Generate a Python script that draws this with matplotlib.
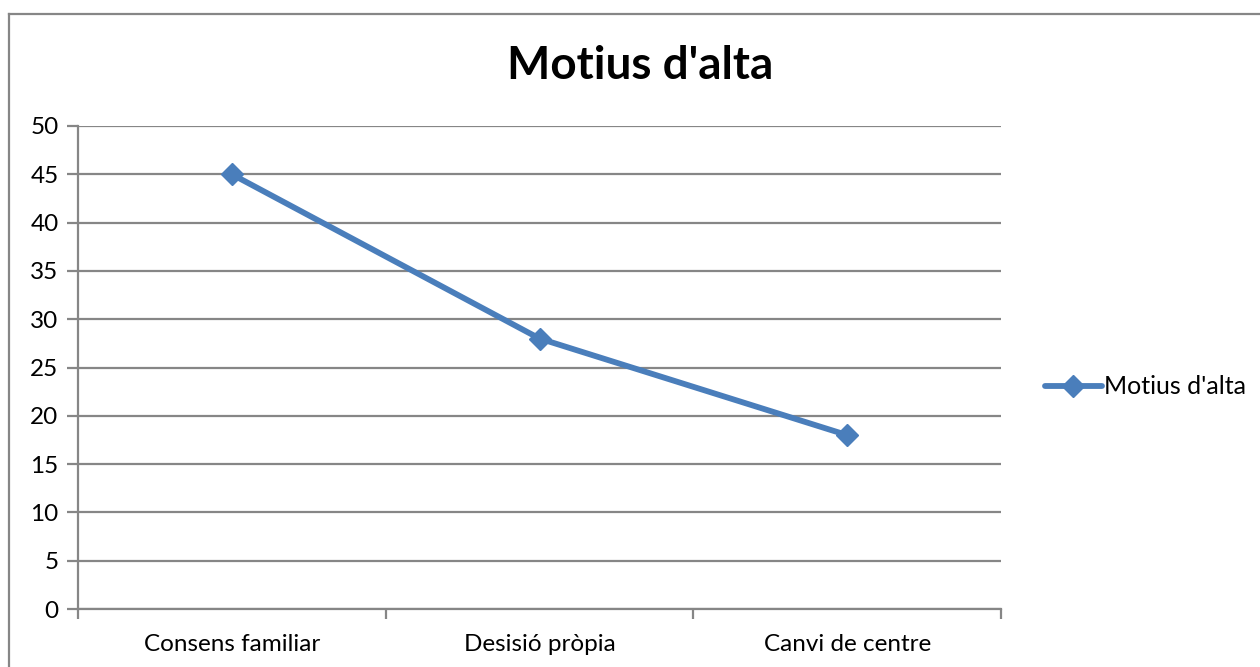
import matplotlib.pyplot as plt
from matplotlib.lines import Line2D

categories = ["Consens familiar", "Desisió pròpia", "Canvi de centre"]
values = [45, 28, 18]
series_name = "Motius d'alta"
yticks = [0, 5, 10, 15, 20, 25, 30, 35, 40, 45, 50]

W, H = 1260, 667
plt.rcParams['font.family'] = ['Lato', 'DejaVu Sans']
grey = '#868686'
blue = '#4A7EBB'

fig = plt.figure(figsize=(W / 100, H / 100), dpi=100)
ax = fig.add_axes([78 / W, 1 - 609 / H, (1001 - 78) / W, (609 - 126) / H])

x = range(len(categories))
ax.plot(x, values, color=blue, lw=4.2, marker='D', ms=11, label=series_name,
        solid_capstyle='round', zorder=3)

ax.set_xlim(-0.5, len(categories) - 0.5)
ax.set_ylim(0, 50)
ax.set_yticks(yticks)
ax.yaxis.grid(True, color=grey, lw=1.6)
ax.set_axisbelow(True)
ax.set_xticks(list(x))
ax.set_xticklabels(categories, fontsize=17.5)
ax.set_xticks([i - 0.5 for i in range(len(categories) + 1)], minor=True)
ax.tick_params(axis='x', which='major', length=0, pad=18)
ax.tick_params(axis='x', which='minor', length=7, width=1.6, color=grey)
ax.tick_params(axis='y', length=8, width=1.6, color=grey, labelsize=17.5, pad=6)

for s in ['top', 'right']:
    ax.spines[s].set_visible(False)
for s in ['left', 'bottom']:
    ax.spines[s].set_color(grey)
    ax.spines[s].set_linewidth(1.6)

fig.text(640 / W, 1 - 66 / H, series_name, ha='center', va='center',
         fontsize=33, fontweight='bold')

ax.legend(loc='center left', bbox_to_anchor=(1032 / W, 1 - 387 / H),
          bbox_transform=fig.transFigure, frameon=False, fontsize=18,
          handlelength=2.3, handletextpad=0.1, borderpad=0)

# outer chart border (cut off at right/bottom)
fig.add_artist(Line2D([9 / W, 9 / W], [0, 1 - 14 / H], color=grey, lw=1.6,
                      transform=fig.transFigure))
fig.add_artist(Line2D([9 / W, 1], [1 - 14 / H, 1 - 14 / H], color=grey, lw=1.6,
                      transform=fig.transFigure))

fig.savefig('out.png', dpi=100)
